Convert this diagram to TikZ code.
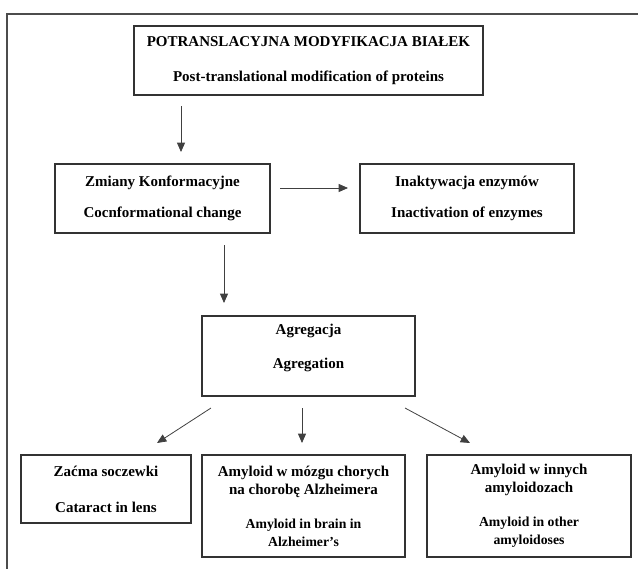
\documentclass[tikz,border=0pt]{standalone}
\usepackage{fontspec}
\setmainfont{Liberation Serif}
\usetikzlibrary{calc,arrows.meta}

\tikzset{
  box/.style={draw=black!80, line width=0.9pt, inner sep=0pt, outer sep=0pt,
    align=center, font=\fontsize{11.25}{13.5}\selectfont\bfseries},
  arr/.style={-{Triangle[length=7pt,width=6pt]}, draw=black!75, line width=0.6pt}
}

\begin{document}
\begin{tikzpicture}[x=0.75pt, y=-0.75pt]
        \useasboundingbox (0,0) rectangle (638,568);
        \draw[black!70, line width=1.1pt] (7,14) rectangle (642,580);
        % boxes
        \node[box, minimum width=349pt*0.75, minimum height=69pt*0.75] (ptm) at (308.5,60.5)
            {POTRANSLACYJNA MODYFIKACJA BIAŁEK\\[12.75pt]Post-translational modification of proteins};
        \node[box, minimum width=215pt*0.75, minimum height=69pt*0.75] (zmiany) at (162.5,198.5)
            {Zmiany Konformacyjne\\[9.5pt]Cocnformational change};
        \node[box, minimum width=214pt*0.75, minimum height=69pt*0.75] (inakt) at (467,198.5)
            {Inaktywacja enzymów\\[9.5pt]Inactivation of enzymes};
        \node[box, minimum width=213pt*0.75, minimum height=80pt*0.75] (agreg) at (308.5,356)
            {Agregacja\\[12pt]Agregation\\[1.5pt]\mbox{}};
        \node[box, minimum width=170pt*0.75, minimum height=68pt*0.75] (zacma) at (106,489)
            {Zaćma soczewki\\[13.5pt]Cataract in lens};
        \node[box, minimum width=203pt*0.75, minimum height=102pt*0.75] (alzh) at (303.5,506)
            {Amyloid w mózgu chorych\\na chorobę Alzheimera\\[12pt]
             {\fontsize{10.3}{12.75}\selectfont Amyloid in brain in}\\
             {\fontsize{10.3}{12.75}\selectfont Alzheimer's}};
        \node[box, minimum width=204pt*0.75, minimum height=102pt*0.75] (inne) at (529,506)
            {Amyloid w innych\\amyloidozach\\[12pt]
             {\fontsize{10.3}{12.75}\selectfont Amyloid in other}\\
             {\fontsize{10.3}{12.75}\selectfont amyloidoses}};
        % arrows
        \draw[arr] ($(ptm.south west)+(47,11)$) -- ($(zmiany.north west)+(126,-12)$);
        \draw[arr] ($(zmiany.east)+(10,-10.5)$) -- ($(inakt.west)+(-12,-10.5)$);
        \draw[arr] ($(zmiany.south west)+(169,12)$) -- ($(agreg.north west)+(22,-13)$);
        \draw[arr] ($(agreg.south west)+(9,12)$) -- ($(zacma.north west)+(136,-12)$);
        \draw[arr] ($(agreg.south west)+(100,12)$) -- ($(alzh.north west)+(100,-12)$);
        \draw[arr] ($(agreg.south east)+(-10,12)$) -- ($(inne.north west)+(43,-12)$);
    \end{tikzpicture}
\end{document}
